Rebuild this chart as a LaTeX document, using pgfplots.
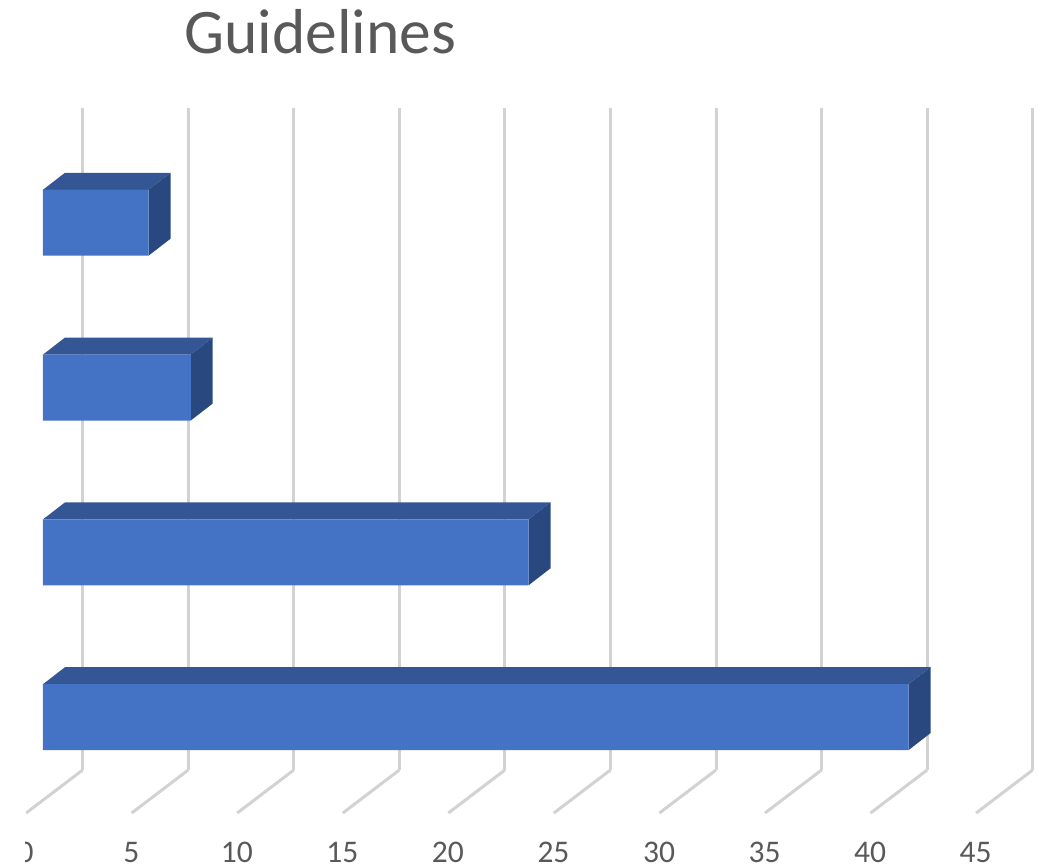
\documentclass[border=0pt]{standalone}
\usepackage{pgfplots}
\usepackage{fontspec}
\setmainfont{Carlito}
\pgfplotsset{compat=1.18}
\definecolor{barfront}{HTML}{4472C4}
\definecolor{bartop}{HTML}{355694}
\definecolor{barside}{HTML}{2A4880}
\definecolor{gridc}{HTML}{D2D2D2}
\definecolor{textc}{HTML}{595959}
% 1pt here is 1px of the reference; the depth of a bar is 1.04 x units and 0.103 y units
\pgfplotstableread{
v y
41 0
23 1
7 2
5 3
}\bardata
\begin{document}
\begin{tikzpicture}
\path[use as bounding box] (-82.7pt,-96pt) rectangle (957.3pt,770pt);
% the reference is cropped just left of the first floor line, through the label 0
\clip (-56.7pt,-96pt) rectangle (957.3pt,770pt);
\begin{axis}[
    at={(0pt,0pt)}, anchor=south west,
    scale only axis, width=950pt, height=662pt,
    xmin=0, xmax=45, ymin=-0.325, ymax=3.692,
    clip=false,
    axis line style={draw=none},
    xtick={0,5,...,45}, ytick=\empty,
    major tick length=0pt,
    xmajorgrids=true,
    grid style={gridc, line width=3pt},
    /pgf/number format/assume math mode=true,
    tick label style={font=\fontsize{31.5}{36}\selectfont, text=textc},
    xticklabel style={xshift=-57pt, anchor=base, yshift=-92pt},
]
% floor of the chart
\addplot[gridc, line width=3pt, forget plot, unbounded coords=jump] coordinates {
    (0,-0.325)(-2.68,-0.586)(nan,nan)
    (5,-0.325)(2.32,-0.586)(nan,nan)
    (10,-0.325)(7.32,-0.586)(nan,nan)
    (15,-0.325)(12.32,-0.586)(nan,nan)
    (20,-0.325)(17.32,-0.586)(nan,nan)
    (25,-0.325)(22.32,-0.586)(nan,nan)
    (30,-0.325)(27.32,-0.586)(nan,nan)
    (35,-0.325)(32.32,-0.586)(nan,nan)
    (40,-0.325)(37.32,-0.586)(nan,nan)
    (45,-0.325)(42.32,-0.586)
};
% top faces
\addplot[xshift=-39.7pt, yshift=-0.7pt, draw=none, fill=bartop, forget plot] coordinates {(0,0.2)(1.04,0.303)(42.04,0.303)(41,0.2)} --cycle;
\addplot[xshift=-39.7pt, yshift=-0.7pt, draw=none, fill=bartop, forget plot] coordinates {(0,1.2)(1.04,1.303)(24.04,1.303)(23,1.2)} --cycle;
\addplot[xshift=-39.7pt, yshift=-0.7pt, draw=none, fill=bartop, forget plot] coordinates {(0,2.2)(1.04,2.303)(8.04,2.303)(7,2.2)} --cycle;
\addplot[xshift=-39.7pt, yshift=-0.7pt, draw=none, fill=bartop, forget plot] coordinates {(0,3.2)(1.04,3.303)(6.04,3.303)(5,3.2)} --cycle;
% side faces
\addplot[xshift=-39.7pt, yshift=-0.7pt, draw=none, fill=barside, forget plot] coordinates {(41,0.2)(42.04,0.303)(42.04,-0.097)(41,-0.2)} --cycle;
\addplot[xshift=-39.7pt, yshift=-0.7pt, draw=none, fill=barside, forget plot] coordinates {(23,1.2)(24.04,1.303)(24.04,0.903)(23,0.8)} --cycle;
\addplot[xshift=-39.7pt, yshift=-0.7pt, draw=none, fill=barside, forget plot] coordinates {(7,2.2)(8.04,2.303)(8.04,1.903)(7,1.8)} --cycle;
\addplot[xshift=-39.7pt, yshift=-0.7pt, draw=none, fill=barside, forget plot] coordinates {(5,3.2)(6.04,3.303)(6.04,2.903)(5,2.8)} --cycle;
% front faces
\addplot[xbar, bar width=66pt, bar shift=0pt, xshift=-39.7pt, yshift=-0.7pt, draw=none, fill=barfront] table[x=v, y=y] {\bardata};
\node[font=\fontsize{63.5}{70}\selectfont, text=textc, anchor=center] at (axis description cs:0.25,1.115) {Guidelines};
\end{axis}
\end{tikzpicture}
\end{document}
